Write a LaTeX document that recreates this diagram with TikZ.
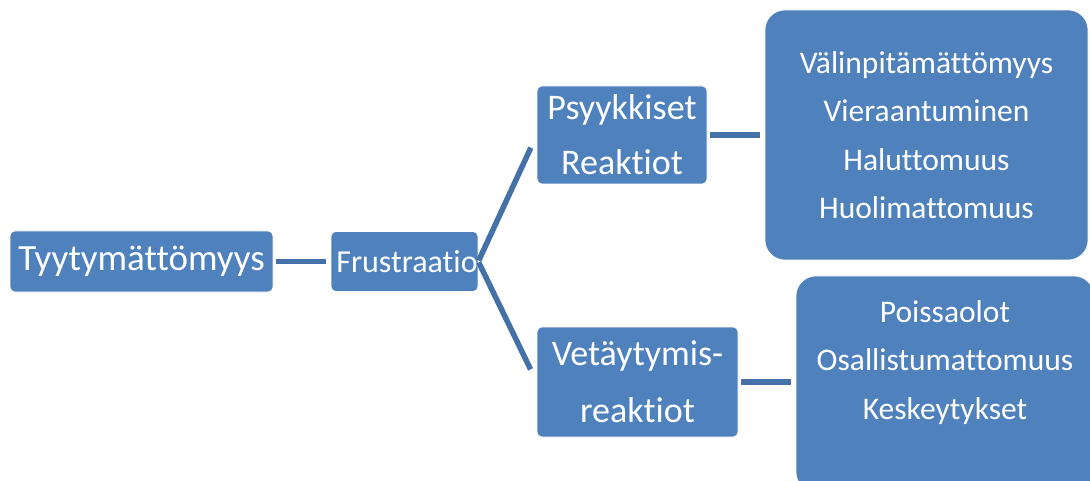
\documentclass[tikz,border=0pt]{standalone}
\usepackage{fontspec}
\setmainfont[Ligatures={NoCommon}]{Carlito}
\usetikzlibrary{positioning}
\definecolor{BoxColor}{RGB}{79,129,189}
\definecolor{LinkColor}{RGB}{68,114,168}
\tikzset{
  small box/.style={rectangle, rounded corners=5pt, fill=BoxColor, draw=white, line width=0.6pt, text=white, inner sep=0pt, align=center},
  big box/.style={small box, rounded corners=20pt},
  link/.style={LinkColor, line width=5.5pt, shorten <=3pt, shorten >=5pt},
  fork/.style={LinkColor, line width=5.5pt, shorten <=1pt, shorten >=14pt}
}

\begin{document}
\begin{tikzpicture}[x=1pt, y=-1pt]
            \useasboundingbox (0,0) rectangle (1090,481);
            \clip (0,0) rectangle (1090,481);

            % Root and middle step
            \node[small box, minimum width=263pt, minimum height=61pt, font=\fontsize{37}{44}\selectfont] (tyyty) at (141.5,261.5) {Tyytymättömyys};
            \node[small box, minimum width=147pt, minimum height=60pt, font=\fontsize{32}{38}\selectfont] (frust) at (404.5,261.5) {\hspace*{2.5pt}Frustraatio\hspace*{-2.5pt}};

            % Reactions
            \node[small box, minimum width=170pt, minimum height=98pt, font=\fontsize{36}{55}\selectfont] (psyk) at (622,135) {Psyykkiset\\Reaktiot};
            \node[small box, minimum width=201pt, minimum height=110pt, font=\fontsize{36}{57}\selectfont] (vetay) at (637.5,382) {Vetäytymis-\\reaktiot};

            % Consequences
            \node[big box, minimum width=323pt, minimum height=250pt, font=\fontsize{31.5}{48.5}\selectfont] (psykout) at (926.5,135) {Välinpitämättömyys\\Vieraantuminen\\Haluttomuus\\Huolimattomuus};
            \node[big box, minimum width=298pt, minimum height=216pt, font=\fontsize{31.5}{48.5}\selectfont] (vetayout) at (945,384) {Poissaolot\\Osallistumattomuus\\Keskeytykset\\\mbox{}};

            % Connectors
            \draw[link] (tyyty.east) -- (frust.west);
            \draw[fork] (frust.east) -- (psyk.west);
            \draw[fork] (frust.east) -- (vetay.west);
            \draw[link] (psyk.east) -- (psykout.west |- psyk.east);
            \draw[link] (vetay.east) -- (vetayout.west |- vetay.east);
        \end{tikzpicture}
\end{document}
